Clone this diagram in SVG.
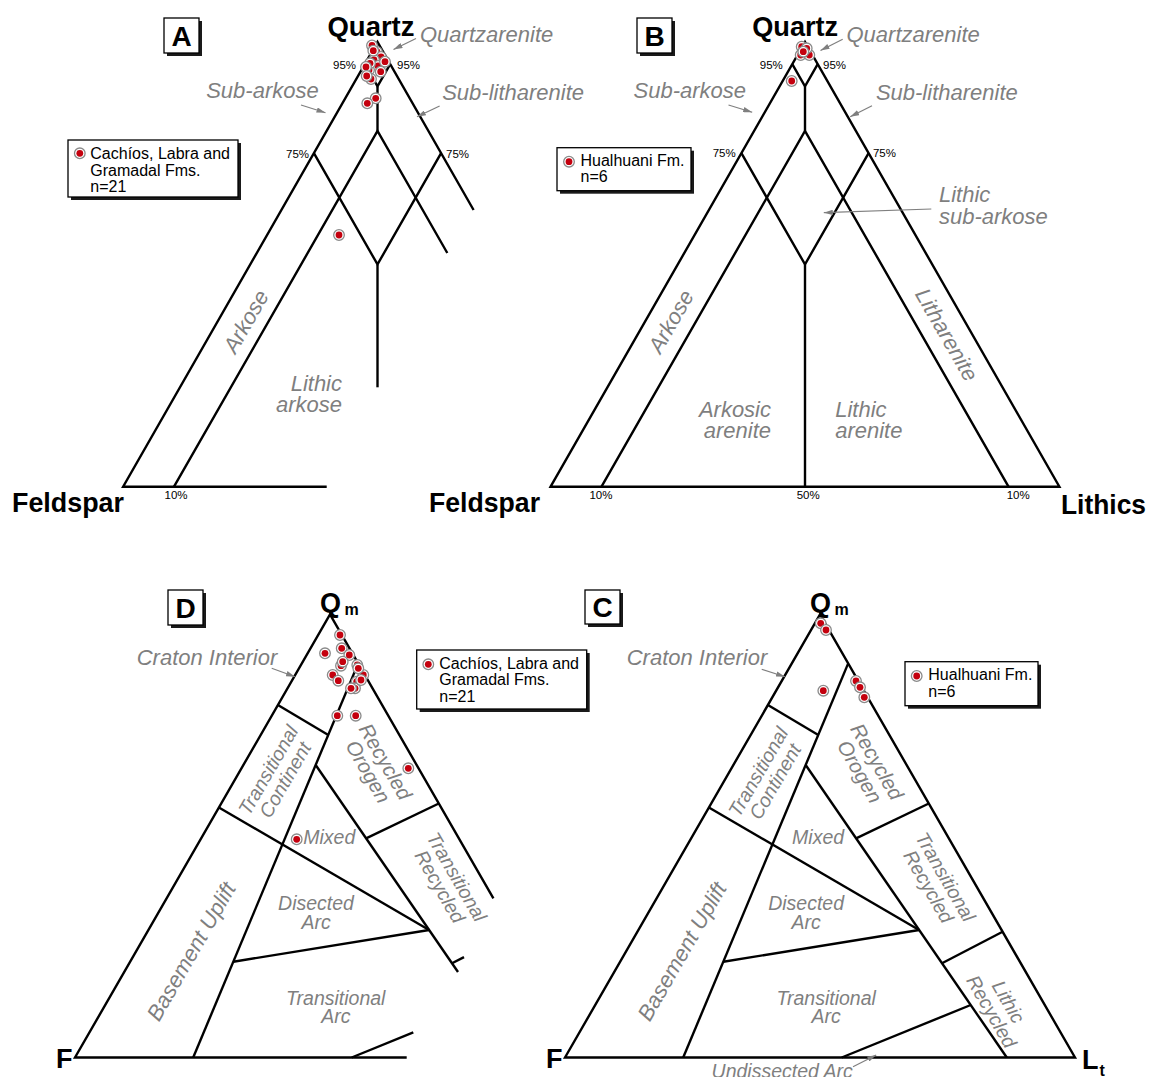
<svg xmlns="http://www.w3.org/2000/svg" width="1151" height="1077" viewBox="0 0 1151 1077">
<defs>
<style>
text{font-family:'Liberation Sans',Arial,sans-serif}
.ln{fill:none;stroke:#000;stroke-width:2.4;stroke-linejoin:miter;stroke-miterlimit:20}
.lbl{font-style:italic;font-size:22px;fill:#7f7f7f}
.rg{font-style:italic;font-size:19.5px;fill:#7f7f7f}
.pct{font-size:11.5px;fill:#000}
.ax{font-weight:bold;font-size:27px;fill:#000}
.sub{font-weight:bold;font-size:16px;fill:#000}
.leg{font-size:16px;fill:#000}
.box{fill:#fff;stroke:#000;stroke-width:1.3}
.shd{fill:#1a1a1a}
.let{font-weight:bold;font-size:28px;fill:#000;text-anchor:middle}
.arr{fill:none;stroke:#7f7f7f;stroke-width:1.2;marker-end:url(#ah)}
</style>
<marker id="ah" viewBox="0 0 10 6" refX="10" refY="3" markerWidth="9" markerHeight="5.4" orient="auto" markerUnits="userSpaceOnUse">
<path d="M0,0 L10,3 L0,6 z" fill="#7f7f7f"/>
</marker>
<g id="dot"><circle r="5.3" fill="#fff" stroke="#8a8a8a" stroke-width="1.3"/><circle r="3.4" fill="#c4000e"/></g>
</defs>
<rect width="1151" height="1077" fill="#fff"/>

<!-- ===== Panel A ===== -->
<g id="panelA">
<g id="A-lines">
<polyline class="ln" points="326.7,486.7 123.1,486.7 377.5,42 473.6,210"/>
<polyline class="ln" points="364.8,64.2 377.5,86.4 390.2,64.2"/>
<line class="ln" x1="377.5" y1="86.4" x2="377.5" y2="130.9"/>
<polyline class="ln" points="174,486.7 377.5,130.9 447.3,253"/>
<polyline class="ln" points="313.9,153.2 377.5,264.4 441.1,153.2"/>
<line class="ln" x1="377.5" y1="264.4" x2="377.5" y2="387.3"/>
</g>
<g id="A-tag"><rect class="shd" x="167" y="21" width="35" height="35"/><rect class="box" x="164" y="18" width="35" height="35"/><text class="let" x="181.5" y="45.5">A</text></g>
<text class="ax" x="327.5" y="36" textLength="87" lengthAdjust="spacingAndGlyphs">Quartz</text>
<text class="ax" x="12" y="512" textLength="112" lengthAdjust="spacingAndGlyphs">Feldspar</text>
<text class="pct" x="333" y="68.5">95%</text>
<text class="pct" x="397" y="68.5">95%</text>
<text class="pct" x="286" y="158">75%</text>
<text class="pct" x="446" y="158">75%</text>
<text class="pct" x="164.5" y="499">10%</text>
<text class="lbl" x="420" y="42">Quartzarenite</text>
<text class="lbl" x="206.2" y="98">Sub-arkose</text>
<text class="lbl" x="442.2" y="100">Sub-litharenite</text>
<text class="lbl" text-anchor="end" x="342" y="391">Lithic<tspan x="342" y="412">arkose</tspan></text>
<text class="lbl" text-anchor="middle" transform="translate(246.5,321.7) rotate(-60)" y="7">Arkose</text>
<g id="A-legend"><rect class="shd" x="71" y="143" width="170" height="57"/><rect class="box" x="68" y="140" width="170" height="57"/>
<use href="#dot" x="79.8" y="153.3"/>
<text class="leg" x="90.3" y="159">Cachíos, Labra and</text><text class="leg" x="90.3" y="175.5">Gramadal Fms.</text><text class="leg" x="90.3" y="192">n=21</text></g>
<g id="A-dots">
<use href="#dot" x="372" y="45.5"/><use href="#dot" x="377" y="52"/><use href="#dot" x="381" y="57"/><use href="#dot" x="374" y="60"/>
<use href="#dot" x="378" y="66"/><use href="#dot" x="369" y="70"/><use href="#dot" x="371" y="79"/>
<use href="#dot" x="373.3" y="50.7"/><use href="#dot" x="385" y="61.7"/><use href="#dot" x="370" y="63.3"/><use href="#dot" x="366" y="67"/>
<use href="#dot" x="380.7" y="71.7"/><use href="#dot" x="366.7" y="76"/><use href="#dot" x="375.7" y="98.3"/><use href="#dot" x="367.3" y="103.3"/>
<use href="#dot" x="339" y="235"/>
</g>
</g>

<!-- ===== Panel B ===== -->
<g id="panelB">
<g id="B-lines">
<polygon class="ln" points="550.6,486.7 805,42 1059.4,486.7"/>
<polyline class="ln" points="792.3,64.2 805,86.4 817.7,64.2"/>
<line class="ln" x1="805" y1="86.4" x2="805" y2="130.9"/>
<polyline class="ln" points="601.5,486.7 805,130.9 1008.5,486.7"/>
<polyline class="ln" points="741.4,153.2 805,264.4 868.6,153.2"/>
<line class="ln" x1="805" y1="264.4" x2="805" y2="486.7"/>
</g>
<g id="B-tag"><rect class="shd" x="640" y="21" width="35" height="35"/><rect class="box" x="637" y="18" width="35" height="35"/><text class="let" x="654.5" y="45.5">B</text></g>
<text class="ax" x="752.2" y="36" textLength="86" lengthAdjust="spacingAndGlyphs">Quartz</text>
<text class="ax" x="429" y="512" textLength="111" lengthAdjust="spacingAndGlyphs">Feldspar</text>
<text class="ax" x="1061" y="514" textLength="85" lengthAdjust="spacingAndGlyphs">Lithics</text>
<text class="pct" x="759.8" y="68.5">95%</text>
<text class="pct" x="823" y="68.5">95%</text>
<text class="pct" x="712.7" y="157">75%</text>
<text class="pct" x="872.9" y="157">75%</text>
<text class="pct" x="589.4" y="499">10%</text>
<text class="pct" x="796.7" y="499">50%</text>
<text class="pct" x="1006.7" y="499">10%</text>
<text class="lbl" x="846.5" y="42">Quartzarenite</text>
<text class="lbl" x="633.5" y="98">Sub-arkose</text>
<text class="lbl" x="875.9" y="100">Sub-litharenite</text>
<text class="lbl" x="939" y="202">Lithic<tspan x="939" y="224">sub-arkose</tspan></text>
<text class="lbl" text-anchor="end" x="771" y="416.7">Arkosic<tspan x="771" y="438.3">arenite</tspan></text>
<text class="lbl" x="835.2" y="416.7">Lithic<tspan x="835.2" y="438.3">arenite</tspan></text>
<text class="lbl" text-anchor="middle" transform="translate(671.5,321.7) rotate(-60)" y="7">Arkose</text>
<text class="lbl" text-anchor="middle" transform="translate(946.3,335) rotate(60)" y="7">Litharenite</text>
<g id="B-legend"><rect class="shd" x="560" y="150.7" width="134" height="43"/><rect class="box" x="557" y="147.7" width="134" height="43"/>
<use href="#dot" x="569" y="161.7"/>
<text class="leg" x="580.5" y="165.7">Hualhuani Fm.</text><text class="leg" x="580.5" y="181.7">n=6</text></g>
<g id="B-dots">
<use href="#dot" x="801.7" y="46.7"/><use href="#dot" x="800.7" y="55"/><use href="#dot" x="809.3" y="55"/><use href="#dot" x="806.7" y="48.3"/>
<use href="#dot" x="803.3" y="51.7"/><use href="#dot" x="791.7" y="81"/>
</g>
</g>

<!-- ===== Panel D ===== -->
<g id="panelD">
<g id="D-lines">
<polyline class="ln" points="406.7,1057.5 75,1057.5 330,614.5 493.4,898.3"/>
<line class="ln" x1="277.9" y1="705" x2="328.3" y2="735"/>
<line class="ln" x1="358.1" y1="663.6" x2="193.2" y2="1057.5"/>
<line class="ln" x1="315.7" y1="765" x2="458" y2="972"/>
<line class="ln" x1="218.9" y1="807.5" x2="429.1" y2="930"/>
<line class="ln" x1="366.1" y1="838.3" x2="438.8" y2="803.5"/>
<line class="ln" x1="233.3" y1="961.7" x2="429.1" y2="930"/>
<line class="ln" x1="452" y1="963.3" x2="464" y2="957.1"/>
<line class="ln" x1="351.7" y1="1057.5" x2="413.3" y2="1032.4"/>
</g>
<g id="D-tag"><rect class="shd" x="171" y="593" width="35" height="35"/><rect class="box" x="168" y="590" width="35" height="35"/><text class="let" x="185.5" y="617.5">D</text></g>
<text class="ax" x="320" y="611.7" style="font-size:27px">Q</text><text class="sub" x="344.5" y="615">m</text>
<text class="ax" x="56" y="1068" style="font-size:27px">F</text>
<text class="lbl" x="136.7" y="664.5">Craton Interior</text>
<text class="rg" x="303.3" y="844">Mixed</text>
<text class="rg" text-anchor="middle" x="316" y="909.5">Disected<tspan x="316" y="928.5">Arc</tspan></text>
<text class="rg" text-anchor="middle" x="335.8" y="1004.5">Transitional<tspan x="335.8" y="1023">Arc</tspan></text>
<text class="rg" text-anchor="middle" transform="translate(276.7,775) rotate(-60)"><tspan x="0" y="-3">Transitional</tspan><tspan x="0" y="16.5">Continent</tspan></text>
<text class="rg" text-anchor="middle" transform="translate(376.7,766.7) rotate(60)" style="font-size:20.5px"><tspan x="0" y="-3">Recycled</tspan><tspan x="0" y="17">Orogen</tspan></text>
<text class="rg" text-anchor="middle" transform="translate(448.3,881.7) rotate(60)"><tspan x="0" y="-3">Transitional</tspan><tspan x="0" y="16.5">Recycled</tspan></text>
<text class="lbl" text-anchor="middle" transform="translate(191.7,951.7) rotate(-60)" y="7">Basement Uplift</text>
<g id="D-legend"><rect class="shd" x="419.7" y="653" width="170" height="59"/><rect class="box" x="416.7" y="650" width="170" height="59"/>
<use href="#dot" x="428.3" y="664.3"/>
<text class="leg" x="439.3" y="668.5">Cachíos, Labra and</text><text class="leg" x="439.3" y="685">Gramadal Fms.</text><text class="leg" x="439.3" y="701.7">n=21</text></g>
<g id="D-dots">
<use href="#dot" x="341" y="665.7"/><use href="#dot" x="357.3" y="665"/><use href="#dot" x="363.3" y="675"/><use href="#dot" x="356.7" y="681.7"/><use href="#dot" x="355" y="688.3"/>
<use href="#dot" x="340" y="635"/><use href="#dot" x="325" y="653.3"/><use href="#dot" x="341.7" y="648.3"/><use href="#dot" x="349.3" y="655"/>
<use href="#dot" x="342.7" y="661.7"/><use href="#dot" x="358.3" y="668.3"/><use href="#dot" x="332.7" y="675"/><use href="#dot" x="338.3" y="680.7"/>
<use href="#dot" x="361" y="680"/><use href="#dot" x="351" y="688.3"/><use href="#dot" x="337.3" y="715.7"/><use href="#dot" x="355.7" y="715.7"/>
<use href="#dot" x="408.3" y="768.3"/><use href="#dot" x="296.7" y="839.3"/>
</g>
</g>

<!-- ===== Panel C ===== -->
<g id="panelC">
<g id="C-lines">
<polygon class="ln" points="565,1057.5 820,614.5 1075,1057.5"/>
<line class="ln" x1="767.9" y1="705" x2="818.3" y2="735"/>
<line class="ln" x1="848.1" y1="663.6" x2="683.2" y2="1057.5"/>
<line class="ln" x1="805.7" y1="765" x2="1006.8" y2="1057.5"/>
<line class="ln" x1="708.9" y1="807.5" x2="919.1" y2="930"/>
<line class="ln" x1="856.1" y1="838.3" x2="928.8" y2="803.5"/>
<line class="ln" x1="723.3" y1="961.7" x2="919.1" y2="930"/>
<line class="ln" x1="942" y1="963.3" x2="1002.6" y2="931.7"/>
<line class="ln" x1="841.7" y1="1057.5" x2="970.7" y2="1005"/>
</g>
<g id="C-tag"><rect class="shd" x="588" y="593" width="35" height="34"/><rect class="box" x="585" y="590" width="35" height="34"/><text class="let" x="602.5" y="617">C</text></g>
<text class="ax" x="810" y="611.7" style="font-size:27px">Q</text><text class="sub" x="834.5" y="615">m</text>
<text class="ax" x="546" y="1068" style="font-size:27px">F</text>
<text class="ax" x="1082" y="1069" style="font-size:27px">L</text><text class="sub" x="1099.5" y="1075.5">t</text>
<text class="lbl" x="626.7" y="664.5">Craton Interior</text>
<text class="rg" x="792.1" y="843.5">Mixed</text>
<text class="rg" text-anchor="middle" x="806.1" y="909.5">Disected<tspan x="806.1" y="928.5">Arc</tspan></text>
<text class="rg" text-anchor="middle" x="826.2" y="1004.5">Transitional<tspan x="826.2" y="1023">Arc</tspan></text>
<text class="rg" x="711.6" y="1077.5">Undissected Arc</text>
<text class="rg" text-anchor="middle" transform="translate(766.7,776.7) rotate(-60)"><tspan x="0" y="-3">Transitional</tspan><tspan x="0" y="16.5">Continent</tspan></text>
<text class="rg" text-anchor="middle" transform="translate(868.3,766.7) rotate(60)" style="font-size:20.5px"><tspan x="0" y="-3">Recycled</tspan><tspan x="0" y="17">Orogen</tspan></text>
<text class="rg" text-anchor="middle" transform="translate(937,881.7) rotate(60)"><tspan x="0" y="-3">Transitional</tspan><tspan x="0" y="16.5">Recycled</tspan></text>
<text class="rg" text-anchor="middle" transform="translate(1000,1006.7) rotate(60)"><tspan x="0" y="-3">Lithic</tspan><tspan x="0" y="16.5">Recycled</tspan></text>
<text class="lbl" text-anchor="middle" transform="translate(682.5,951.7) rotate(-60)" y="7">Basement Uplift</text>
<g id="C-legend"><rect class="shd" x="908" y="664.7" width="133" height="44"/><rect class="box" x="905" y="661.7" width="133" height="44"/>
<use href="#dot" x="916.7" y="676"/>
<text class="leg" x="928.3" y="680">Hualhuani Fm.</text><text class="leg" x="928.3" y="696.7">n=6</text></g>
<g id="C-dots">
<use href="#dot" x="820.7" y="623.3"/><use href="#dot" x="826" y="630"/><use href="#dot" x="823.3" y="690.7"/>
<use href="#dot" x="856" y="681"/><use href="#dot" x="860" y="687.3"/><use href="#dot" x="864.3" y="697.3"/>
</g>
</g>

<!-- ===== Connectors (label arrows) ===== -->
<g id="connectors">
<line class="arr" x1="416" y1="38.5" x2="393.5" y2="49.5"/>
<line class="arr" x1="301" y1="105" x2="325.5" y2="112.7"/>
<line class="arr" x1="439.6" y1="106" x2="417" y2="116.7"/>
<line class="arr" x1="842.7" y1="39.3" x2="820.5" y2="50.5"/>
<line class="arr" x1="728.5" y1="105" x2="752.2" y2="112.3"/>
<line class="arr" x1="872" y1="105.7" x2="850.2" y2="116.7"/>
<line class="arr" x1="931.3" y1="209" x2="823.8" y2="212.7"/>
<line class="arr" x1="271.7" y1="668.3" x2="295" y2="676.7"/>
<line class="arr" x1="761.7" y1="669.3" x2="785" y2="676.7"/>
<line class="arr" x1="853" y1="1066.7" x2="876.2" y2="1055"/>
</g>
</svg>
